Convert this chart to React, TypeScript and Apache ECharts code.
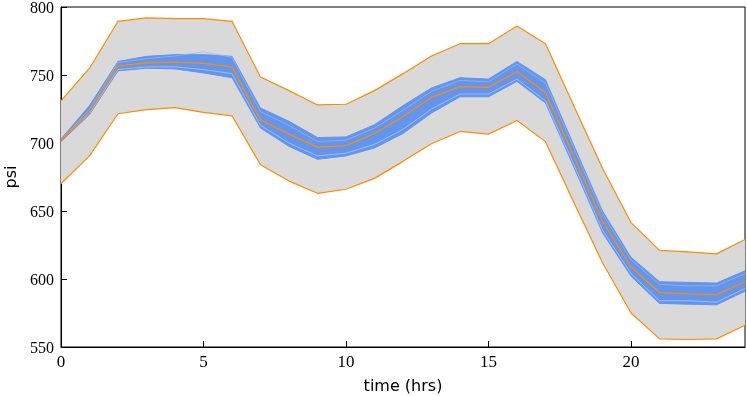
import React, { useEffect, useRef } from "react";
import * as echarts from "echarts";

const hours = ["0","1","2","3","4","5","6","7","8","9","10","11","12","13","14","15","16","17","18","19","20","21","22","23","24"];
const upperBound = [731,755,789.5,792,791.5,791.5,789.5,748.5,738.5,728,728.5,738.5,751,764,773,773,786,773,727,681.5,641.5,621,620,618.5,629];
const lowerBound = [670,690.5,721.5,724.5,726,722.5,720,684,672,663,666,674,686.5,699.5,708.5,706.5,716.5,701,656,612,575,556,555.5,556,566];
const meanLine = [702,723,756.5,759,759.5,758.5,756,717,706.5,697,698,707,719.5,733.5,741.5,741,752.5,737,690,642.5,609,590,589,588.5,598];
const ensembleTop = [703,727.5,760,763.7,765,765,763.7,725.7,716,704,704.5,713.5,727.5,740.5,748,747,760,746.5,698,650,616,598,597.5,597,606];
const ensembleBottom = [701,721,753,755,754.5,751.5,748,711,697.5,688,690.5,696.3,707,722,734,734,745.3,729.4,682,634,602,582,581.5,581,591];
const memberA = [702,722,754,756,756,754,751,713,700,690.5,692.5,699,710,725,736,736,747,731,684,636,604,584,584,583,593];
const memberB = [702,725,759,762,764,767,763,723,713,701,702,711,724,738,746,745,758,744,696,648,614,596,595,595,604];
const xLabelEvery = 5;
const yTicks = { min: 550, max: 800, interval: 50 };

const diff = (hi: number[], lo: number[]) => hi.map((v, i) => +(v - lo[i]).toFixed(2));

export default function App() {
  const ref = useRef<HTMLDivElement>(null);
  useEffect(() => {
    if (!ref.current) return;
    const chart = echarts.init(ref.current, null, { renderer: "svg" });
    const orange = "#ff8c00";
    const blue = "#6495ed";
    const noSym = { showSymbol: false, symbol: "none" as const };
    chart.setOption({
      animation: false,
      grid: { left: 61, right: 2, top: 7, bottom: 49, containLabel: false, outerBoundsMode: "none", show: true, borderColor: "#000", borderWidth: 1, backgroundColor: "transparent" },
      xAxis: {
        type: "category", data: hours, boundaryGap: false,
        name: "time (hrs)", nameLocation: "middle", nameGap: 30,
        nameTextStyle: { fontFamily: "DejaVu Sans", fontSize: 16, color: "#000" },
        axisLine: { show: true, lineStyle: { color: "#000", width: 1 } },
        axisTick: { show: true, inside: true, length: 6, interval: xLabelEvery - 1, lineStyle: { color: "#000" } },
        axisLabel: { interval: xLabelEvery - 1, fontFamily: "Liberation Serif", fontSize: 17, color: "#000", margin: 6 },
        splitLine: { show: false },
      },
      yAxis: {
        type: "value", min: yTicks.min, max: yTicks.max, interval: yTicks.interval,
        name: "psi", nameLocation: "middle", nameGap: 43,
        nameTextStyle: { fontFamily: "DejaVu Sans", fontSize: 16, color: "#000" },
        axisLine: { show: true, lineStyle: { color: "#000", width: 1 } },
        axisTick: { show: true, inside: true, length: 6, lineStyle: { color: "#000" } },
        axisLabel: { fontFamily: "Liberation Serif", fontSize: 16, color: "#000", margin: 7 },
        splitLine: { show: false },
      },
      series: [
        { type: "line", ...noSym, stack: "range", data: lowerBound, lineStyle: { opacity: 0 }, z: 1 },
        { type: "line", ...noSym, stack: "range", data: diff(upperBound, lowerBound), lineStyle: { opacity: 0 }, areaStyle: { color: "#d9d9d9", opacity: 1 }, z: 1 },
        { type: "line", ...noSym, data: upperBound, lineStyle: { color: orange, width: 1.2 }, z: 3 },
        { type: "line", ...noSym, data: lowerBound, lineStyle: { color: orange, width: 1.2 }, z: 3 },
        { type: "line", ...noSym, stack: "ens", data: ensembleBottom, lineStyle: { opacity: 0 }, z: 2 },
        { type: "line", ...noSym, stack: "ens", data: diff(ensembleTop, ensembleBottom), lineStyle: { opacity: 0 }, areaStyle: { color: blue, opacity: 1 }, z: 2 },
        { type: "line", ...noSym, data: ensembleTop, lineStyle: { color: blue, width: 1 }, z: 2 },
        { type: "line", ...noSym, data: ensembleBottom, lineStyle: { color: blue, width: 1 }, z: 2 },
        { type: "line", ...noSym, data: memberA, lineStyle: { color: "rgba(190,210,248,0.8)", width: 0.8 }, z: 3 },
        { type: "line", ...noSym, data: memberB, lineStyle: { color: "rgba(150,182,242,0.9)", width: 0.8 }, z: 3 },
        { type: "line", ...noSym, data: meanLine, lineStyle: { color: orange, width: 1.3 }, z: 4 },
      ],
    });
    return () => chart.dispose();
  }, []);
  return <div ref={ref} style={{ position: "fixed", left: 0, top: 0, width: 747, height: 396 }} />;
}
